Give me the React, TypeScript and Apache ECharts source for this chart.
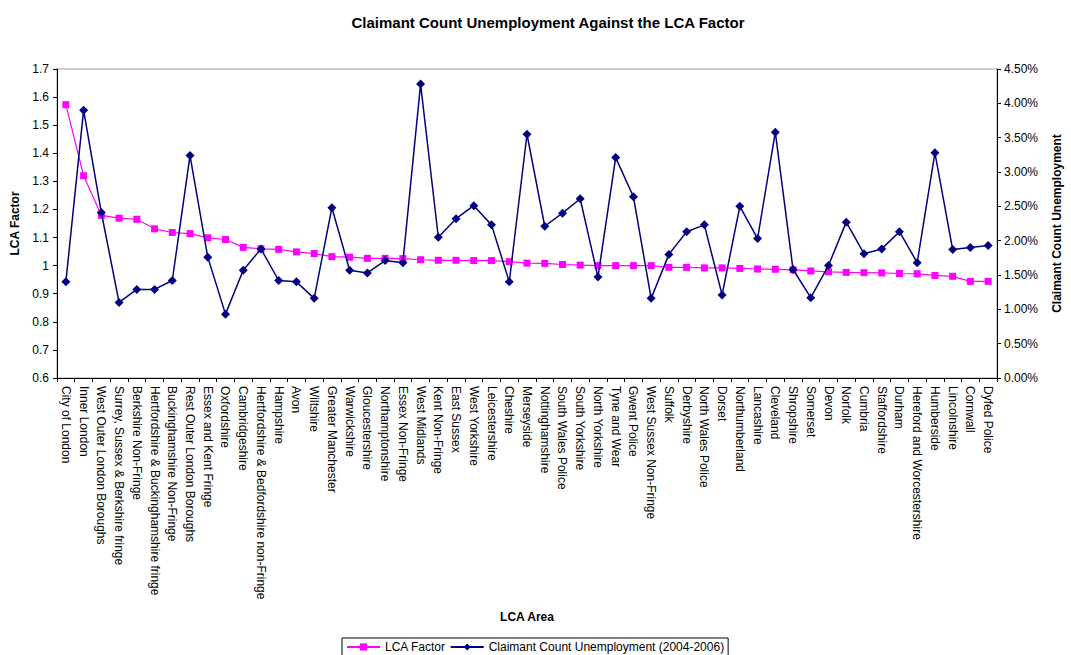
import React, { useEffect, useRef } from 'react';
import * as echarts from 'echarts';

const areas: string[] = [
  'City of London', 'Inner London', 'West Outer London Boroughs', 'Surrey, Sussex & Berkshire fringe',
  'Berkshire Non-Fringe', 'Hertfordshire & Buckinghamshire fringe', 'Buckinghamshire Non-Fringe',
  'Rest Outer London Boroughs', 'Essex and Kent Fringe', 'Oxfordshire', 'Cambridgeshire',
  'Hertfordshire & Bedfordshire non-Fringe', 'Hampshire', 'Avon', 'Wiltshire', 'Greater Manchester',
  'Warwickshire', 'Gloucestershire', 'Northamptonshire', 'Essex Non-Fringe', 'West Midlands',
  'Kent Non-Fringe', 'East Sussex', 'West Yorkshire', 'Leicestershire', 'Cheshire', 'Merseyside',
  'Nottinghamshire', 'South Wales Police', 'South Yorkshire', 'North Yorkshire', 'Tyne and Wear',
  'Gwent Police', 'West Sussex Non-Fringe', 'Suffolk', 'Derbyshire', 'North Wales Police', 'Dorset',
  'Northumberland', 'Lancashire', 'Cleveland', 'Shropshire', 'Somerset', 'Devon', 'Norfolk', 'Cumbria',
  'Staffordshire', 'Durham', 'Hereford and Worcestershire', 'Humberside', 'Lincolnshire', 'Cornwall',
  'Dyfed Police',
];

const lcaFactor: number[] = [
  1.573, 1.32, 1.179, 1.169, 1.165, 1.131, 1.118, 1.114, 1.099, 1.093,
  1.065, 1.06, 1.058, 1.049, 1.043, 1.032, 1.03, 1.026, 1.026, 1.025,
  1.021, 1.019, 1.019, 1.018, 1.018, 1.014, 1.009, 1.008, 1.004, 1.002,
  1.0, 1.0, 1.0, 1.0, 0.994, 0.994, 0.992, 0.992, 0.99, 0.988,
  0.987, 0.985, 0.981, 0.978, 0.976, 0.975, 0.974, 0.972, 0.971, 0.965,
  0.962, 0.944, 0.944,
];

// Claimant count unemployment, percent
const claimantPct: number[] = [
  1.40, 3.90, 2.41, 1.10, 1.29, 1.29, 1.42, 3.24, 1.76, 0.93,
  1.57, 1.88, 1.42, 1.40, 1.16, 2.48, 1.57, 1.53, 1.71, 1.68,
  4.28, 2.05, 2.32, 2.51, 2.23, 1.40, 3.55, 2.21, 2.40, 2.61,
  1.47, 3.21, 2.64, 1.16, 1.80, 2.13, 2.23, 1.21, 2.50, 2.03,
  3.58, 1.58, 1.17, 1.64, 2.27, 1.81, 1.88, 2.13, 1.68, 3.28,
  1.87, 1.90, 1.93,
];

const FONT = 'Arial, "Liberation Sans", Helvetica, sans-serif';

export default function App() {
  const ref = useRef<HTMLDivElement>(null);
  useEffect(() => {
    if (!ref.current) return;
    const chart = echarts.init(ref.current, null, { renderer: 'svg' });
    chart.setOption({
      animation: false,
      backgroundColor: '#ffffff',
      textStyle: { fontFamily: FONT, color: '#000' },
      title: {
        text: 'Claimant Count Unemployment Against the LCA Factor',
        left: 543,
        textAlign: 'center',
        top: 10,
        textStyle: { fontFamily: FONT, fontSize: 15, fontWeight: 'bold', color: '#000' },
      },
      legend: {
        left: 342,
        top: 638,
        padding: [3, 4, 3, 4],
        itemGap: 4,
        itemWidth: 33,
        itemHeight: 9,
        borderColor: '#000',
        borderWidth: 1,
        borderRadius: 0,
        textStyle: { fontFamily: FONT, fontSize: 12, color: '#000' },
        data: ['LCA Factor', 'Claimant Count Unemployment (2004-2006)'],
      },
      grid: {
        left: 57,
        top: 69,
        width: 955,
        height: 309,
        show: true,
        borderColor: '#9a9a9a',
        borderWidth: 1,
        backgroundColor: 'transparent',
      },
      xAxis: {
        type: 'category',
        data: areas,
        boundaryGap: true,
        name: 'LCA Area',
        nameLocation: 'middle',
        nameGap: 233,
        nameTextStyle: { fontFamily: FONT, fontSize: 12, fontWeight: 'bold', color: '#000' },
        axisLine: { show: true, lineStyle: { color: '#000', width: 1 } },
        axisTick: { show: true, length: 4, lineStyle: { color: '#000' } },
        axisLabel: {
          interval: 0,
          rotate: -90,
          margin: 8,
          fontFamily: FONT,
          fontSize: 12,
          color: '#000',
        },
        splitLine: { show: false },
      },
      yAxis: [
        {
          type: 'value',
          min: 0.6,
          max: 1.7,
          interval: 0.1,
          position: 'left',
          name: 'LCA Factor',
          nameLocation: 'middle',
          nameGap: 34,
          nameTextStyle: { fontFamily: FONT, fontSize: 12, fontWeight: 'bold', color: '#000' },
          axisLine: { show: true, lineStyle: { color: '#000', width: 1 } },
          axisTick: { show: true, length: 4, lineStyle: { color: '#000' } },
          axisLabel: {
            fontFamily: FONT,
            fontSize: 12,
            color: '#000',
            margin: 8,
            formatter: (v: number) => String(parseFloat(v.toFixed(1))),
          },
          splitLine: { show: false },
        },
        {
          type: 'value',
          min: 0,
          max: 4.5,
          interval: 0.5,
          position: 'right',
          name: 'Claimant Count Unemployment',
          nameLocation: 'middle',
          nameGap: 54,
          nameRotate: 90,
          nameTextStyle: { fontFamily: FONT, fontSize: 12, fontWeight: 'bold', color: '#000' },
          axisLine: { show: true, lineStyle: { color: '#000', width: 1 } },
          axisTick: { show: true, length: 4, lineStyle: { color: '#000' } },
          axisLabel: {
            fontFamily: FONT,
            fontSize: 12,
            color: '#000',
            margin: 7,
            formatter: (v: number) => v.toFixed(2) + '%',
          },
          splitLine: { show: false },
        },
      ],
      series: [
        {
          name: 'LCA Factor',
          type: 'line',
          yAxisIndex: 0,
          data: lcaFactor,
          symbol: 'rect',
          symbolSize: 7,
          lineStyle: { color: '#FF00FF', width: 1.2 },
          itemStyle: { color: '#FF00FF' },
          z: 2,
        },
        {
          name: 'Claimant Count Unemployment (2004-2006)',
          type: 'line',
          yAxisIndex: 1,
          data: claimantPct,
          symbol: 'diamond',
          symbolSize: [9, 9],
          lineStyle: { color: '#000080', width: 1.5 },
          itemStyle: { color: '#000080' },
          z: 3,
        },
      ],
    });
    return () => chart.dispose();
  }, []);
  return (
    <div
      ref={ref}
      style={{ position: 'fixed', left: 0, top: 0, width: 1071, height: 655, background: '#fff' }}
    />
  );
}
